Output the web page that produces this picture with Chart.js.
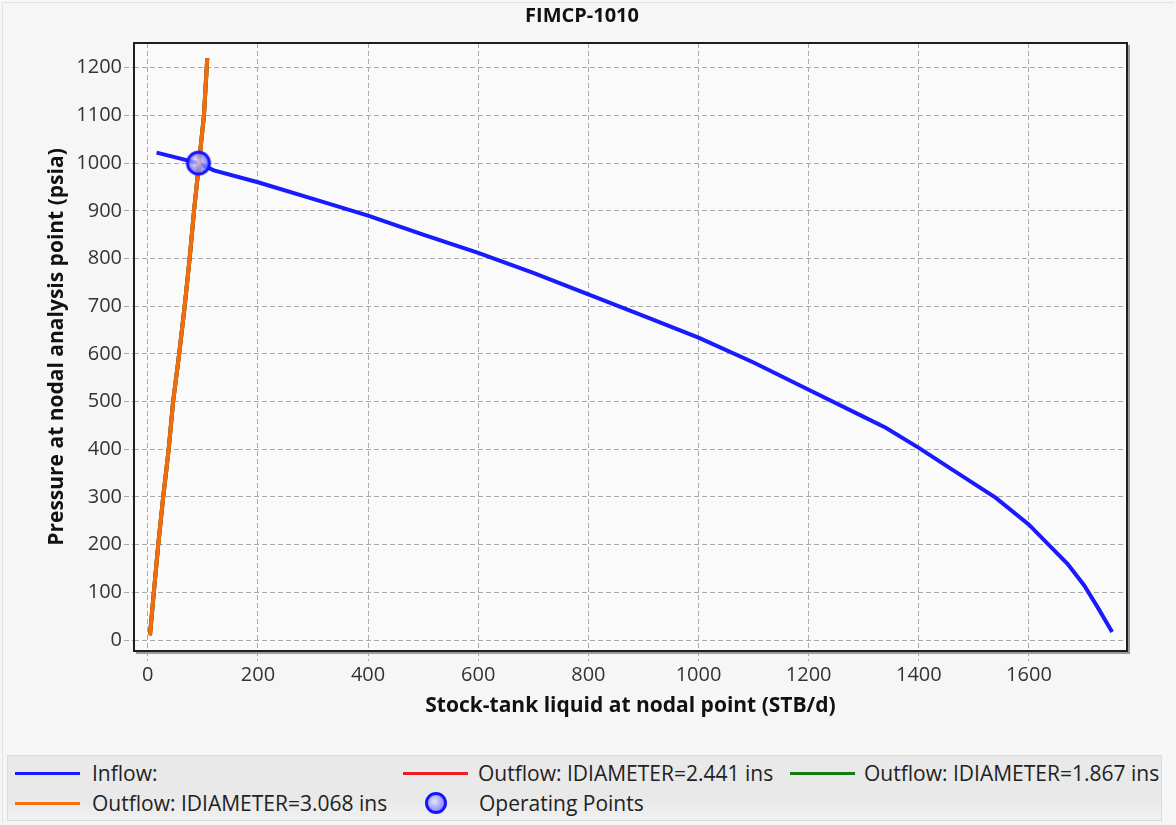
<!DOCTYPE html>
<html lang="en">
<head>
  <meta charset="UTF-8">
  <title>FIMCP-1010</title>
  <script src="https://cdn.jsdelivr.net/npm/chart.js"></script>
  <style>
    body {
      margin: 0;
      background: #f6f6f6;
      font-family: "Open Sans", "Noto Sans", sans-serif;
    }
    #wrap {
      position: relative;
      width: 1176px;
      height: 825px;
    }
    #frame {
      position: absolute;
      left: 2px; top: 2px; width: 1172px; height: 821px;
      border-left: 1px solid #e2e2e2;
      border-top: 1px solid #e2e2e2;
      box-sizing: border-box;
    }
    canvas { position: absolute; left: 0; top: 0; }
    #legend {
      position: absolute;
      left: 7px; top: 755px;
      width: 1155px; height: 66px;
      box-sizing: border-box;
      border: 1px solid #d6dbe2;
      background: linear-gradient(#e9e9e9, #e9e9e9 70%, #f1f1f1);
      font-size: 21px;
      line-height: 28px;
      color: #222;
    }
    .item { position: absolute; white-space: nowrap; }
    .swatch { position: absolute; height: 3px; width: 65px; }
    .dot {
      position: absolute; width: 22px; height: 22px; border-radius: 50%;
      box-sizing: border-box; border: 3px solid #1414ff;
      background: radial-gradient(circle at 40% 40%, #e4e4ff, #6c6cff);
    }
  </style>
</head>
<body>
<div id="wrap">
  <div id="frame"></div>
  <canvas id="nodal" width="1176" height="745"></canvas>
  <div id="legend">
    <div class="swatch" style="left:7px;top:16px;background:#1a1aff"></div>
    <div class="item" style="left:84px;top:3px">Inflow:</div>
    <div class="swatch" style="left:395px;top:16px;background:#ee1c24"></div>
    <div class="item" style="left:470px;top:3px">Outflow: IDIAMETER=2.441 ins</div>
    <div class="swatch" style="left:782px;top:16px;background:#137a13"></div>
    <div class="item" style="left:856px;top:3px">Outflow: IDIAMETER=1.867 ins</div>
    <div class="swatch" style="left:7px;top:46px;background:#f7700f"></div>
    <div class="item" style="left:84px;top:33px">Outflow: IDIAMETER=3.068 ins</div>
    <div class="dot" style="left:417px;top:36px"></div>
    <div class="item" style="left:471px;top:33px">Operating Points</div>
  </div>
</div>

<script>
  // values
  const inflowQ = [16, 92, 120, 200, 300, 400, 500, 600, 700, 800, 900, 1000, 1100, 1200, 1300, 1340, 1400, 1460, 1540, 1600, 1640, 1670, 1700, 1724, 1751];
  const inflowP = [1022, 1000, 985, 960, 925, 890, 850, 812, 770, 725, 680, 634, 582, 525, 468, 445, 403, 358, 298, 242, 195, 160, 115, 70, 17];

  const outflowQ = [4, 11, 19, 28, 38, 46, 57, 67, 76, 84, 93, 102, 108];
  const outflowP = [10, 100, 200, 300, 400, 500, 600, 700, 800, 900, 1000, 1100, 1220];

  const opQ = [92];
  const opP = [1000];

  const xTicks = [0, 200, 400, 600, 800, 1000, 1200, 1400, 1600];
  const yTicks = [0, 100, 200, 300, 400, 500, 600, 700, 800, 900, 1000, 1100, 1200];

  const FONT = '"Open Sans", "Noto Sans", sans-serif';

  function pairs(xs, ys) {
    return xs.map((x, i) => ({ x: x, y: ys[i] }));
  }

  // operating point marker: shaded blue ball
  const ball = document.createElement('canvas');
  ball.width = 28; ball.height = 28;
  (function () {
    const c = ball.getContext('2d');
    const g = c.createRadialGradient(12, 12, 1, 14, 14, 12);
    g.addColorStop(0, 'rgba(220,220,255,0.7)');
    g.addColorStop(1, 'rgba(80,80,255,0.85)');
    c.beginPath();
    c.arc(14, 14, 11, 0, Math.PI * 2);
    c.fillStyle = g;
    c.fill();
    c.lineWidth = 3;
    c.strokeStyle = '#1414ff';
    c.stroke();
  })();

  const framePlugin = {
    id: 'frame',
    beforeDraw(chart) {
      const { ctx, chartArea: a } = chart;
      ctx.save();
      ctx.fillStyle = '#fafafa';
      ctx.fillRect(a.left, a.top, a.right - a.left, a.bottom - a.top);
      ctx.restore();
    },
    afterDraw(chart) {
      const { ctx, chartArea: a } = chart;
      ctx.save();
      // drop shadow on right / bottom
      ctx.strokeStyle = '#9a9a9a';
      ctx.lineWidth = 2;
      ctx.beginPath();
      ctx.moveTo(a.right + 2, a.top + 2);
      ctx.lineTo(a.right + 2, a.bottom + 2);
      ctx.lineTo(a.left + 2, a.bottom + 2);
      ctx.stroke();
      ctx.strokeStyle = '#1e1e1e';
      ctx.lineWidth = 2;
      ctx.strokeRect(a.left, a.top, a.right - a.left, a.bottom - a.top);
      // title
      ctx.fillStyle = '#111';
      ctx.font = 'bold 20px ' + FONT;
      ctx.textAlign = 'center';
      ctx.textBaseline = 'middle';
      ctx.fillText('FIMCP-1010', 582, 16);
      ctx.restore();
    }
  };

  const gridCommon = {
    color: '#a9a9a9',
    lineWidth: 1,
    tickLength: 10,
    tickColor: '#a9a9a9',
    tickBorderDash: [5, 3]
  };

  new Chart(document.getElementById('nodal'), {
    type: 'line',
    data: {
      datasets: [
        {
          label: 'Operating Points',
          data: pairs(opQ, opP),
          showLine: false,
          pointStyle: ball,
          pointRadius: 14
        },
        {
          label: 'Outflow: IDIAMETER=3.068 ins',
          data: pairs(outflowQ, outflowP),
          borderColor: '#f26c0e',
          borderWidth: 4,
          pointRadius: 0
        },
        {
          label: 'Outflow: IDIAMETER=1.867 ins',
          data: pairs(outflowQ, outflowP),
          borderColor: '#137a13',
          borderWidth: 4,
          pointRadius: 0
        },
        {
          label: 'Outflow: IDIAMETER=2.441 ins',
          data: pairs(outflowQ, outflowP),
          borderColor: '#ee1c24',
          borderWidth: 4,
          pointRadius: 0
        },
        {
          label: 'Inflow:',
          data: pairs(inflowQ, inflowP),
          borderColor: '#1a1aff',
          borderWidth: 4,
          pointRadius: 0
        }
      ]
    },
    options: {
      responsive: false,
      animation: false,
      layout: { padding: { left: 0, right: 49, top: 43, bottom: 24 } },
      plugins: {
        legend: { display: false },
        tooltip: { enabled: false }
      },
      scales: {
        x: {
          type: 'linear',
          min: -25,
          max: 1778,
          afterBuildTicks: s => { s.ticks = xTicks.map(v => ({ value: v })); },
          afterFit: s => { s.height = 70; },
          grid: gridCommon,
          border: { display: false, dash: [5, 3] },
          ticks: {
            color: '#333',
            padding: 2,
            maxRotation: 0,
            callback: v => String(v),
            font: { family: FONT, size: 20 }
          },
          title: {
            display: true,
            text: 'Stock-tank liquid at nodal point (STB/d)',
            color: '#111',
            padding: { top: 0, bottom: 2 },
            font: { family: FONT, size: 21, weight: 'bold' }
          }
        },
        y: {
          type: 'linear',
          min: -23,
          max: 1252,
          afterBuildTicks: s => { s.ticks = yTicks.map(v => ({ value: v })); },
          afterFit: s => { s.width = 134; },
          grid: gridCommon,
          border: { display: false, dash: [5, 3] },
          ticks: {
            color: '#333',
            padding: 2,
            callback: v => String(v),
            font: { family: FONT, size: 20 }
          },
          title: {
            display: true,
            text: 'Pressure at nodal analysis point (psia)',
            color: '#111',
            padding: { top: 44, bottom: 0 },
            font: { family: FONT, size: 21, weight: 'bold' }
          }
        }
      }
    },
    plugins: [framePlugin]
  });
</script>
</body>
</html>
